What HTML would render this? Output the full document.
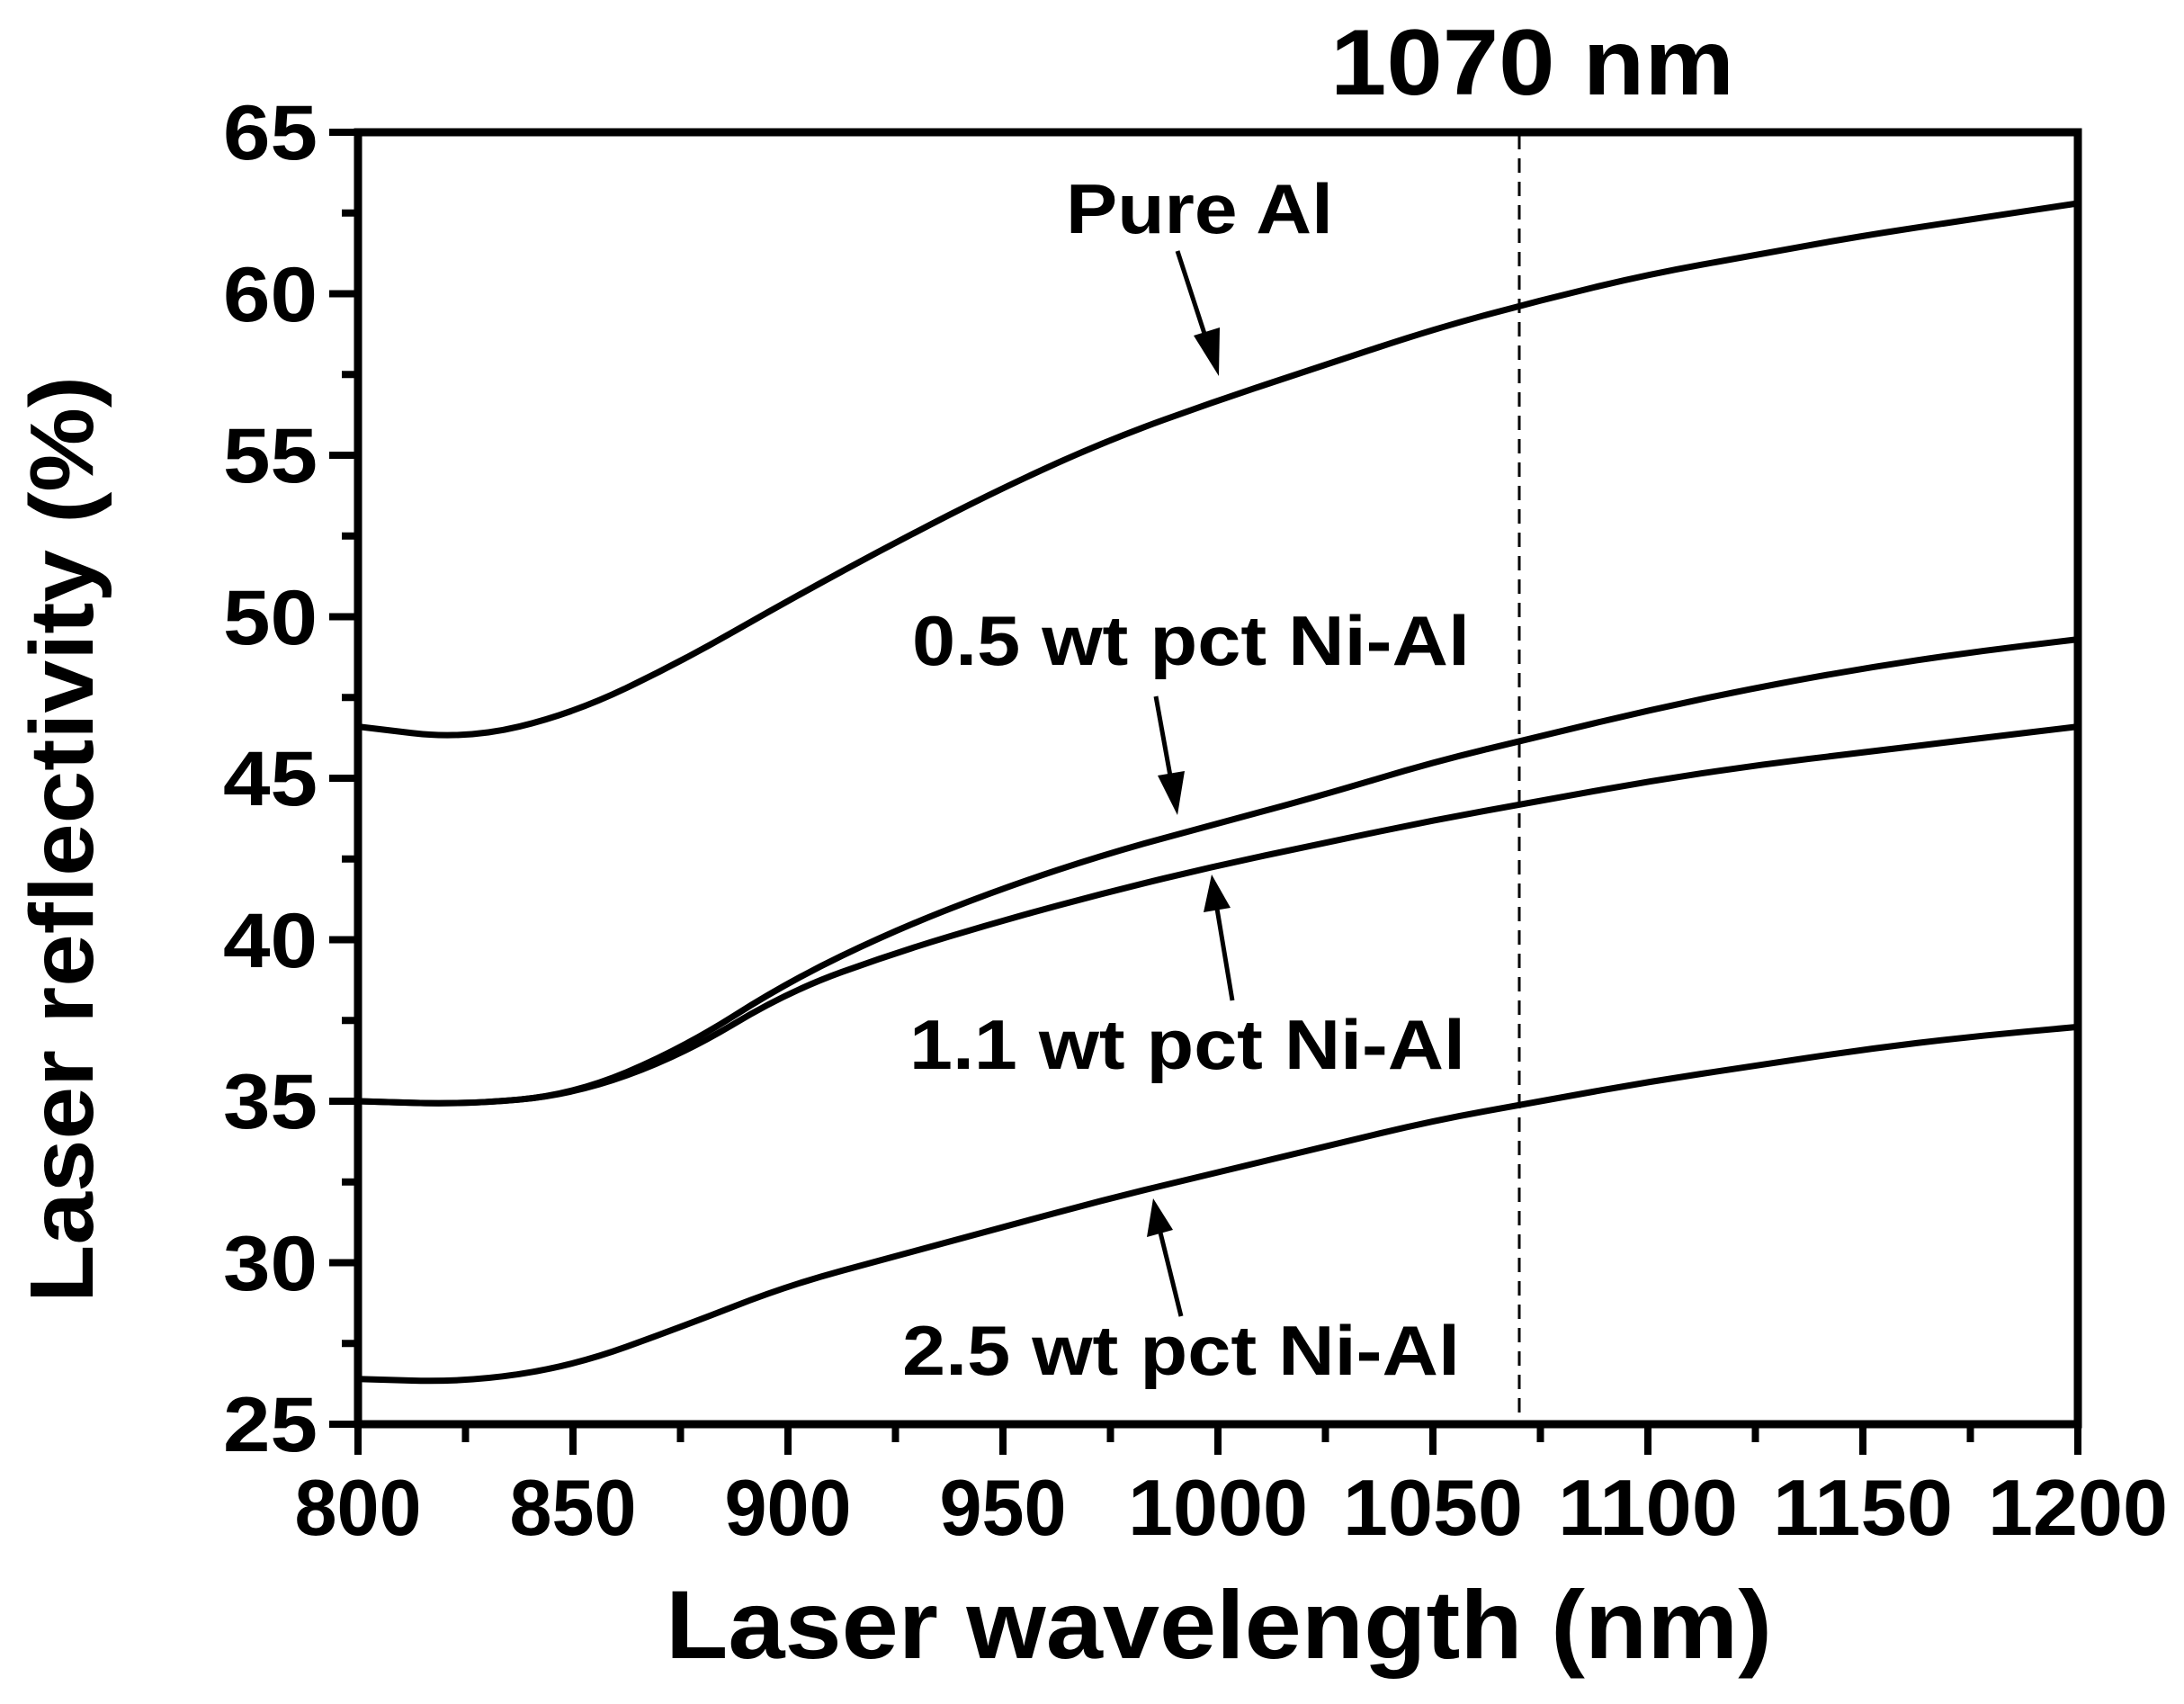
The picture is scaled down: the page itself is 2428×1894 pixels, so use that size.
<!DOCTYPE html>
<html><head><meta charset="utf-8"><style>
html,body{margin:0;padding:0;background:#fff;}
svg{display:block;}
text{font-family:"Liberation Sans",Arial,sans-serif;font-weight:bold;fill:#000;}
</style></head><body>
<svg width="2428" height="1894" viewBox="0 0 2428 1894" xmlns="http://www.w3.org/2000/svg">
<line x1="1689" y1="150" x2="1689" y2="1580" stroke="#000" stroke-width="3" stroke-dasharray="16,10"/>
<g fill="none" stroke="#000" stroke-width="7" stroke-linejoin="round" stroke-linecap="round">
<path d="M398,807.6 L457.75,814.75 Q517.5,821.9 577.25,807.55 Q637,793.2 696.75,764.5 Q756.5,735.8 816.25,701.7 Q876,667.6 935.75,635.25 Q995.5,602.9 1055.25,572.4 Q1115,541.9 1174.75,514.95 Q1234.5,488 1294.25,466.5 Q1354,445 1413.75,425.25 Q1473.5,405.5 1533.25,385.75 Q1593,366 1652.75,349.85 Q1712.5,333.7 1772.25,319.35 Q1832,305 1891.75,294.2 Q1951.5,283.4 2011.25,272.65 Q2071,261.9 2130.75,252.9 Q2190.5,243.9 2250.25,234.95 L2310,226"/>
<path d="M398,1224 L457.75,1225.8 Q517.5,1227.6 577.25,1222.2 Q637,1216.8 696.75,1191.7 Q756.5,1166.6 816.25,1128.9 Q876,1091.2 935.75,1062.45 Q995.5,1033.7 1055.25,1010.35 Q1115,987 1174.75,967.3 Q1234.5,947.6 1294.25,931.45 Q1354,915.3 1413.75,899.15 Q1473.5,883 1533.25,865.05 Q1593,847.1 1652.75,832.7 Q1712.5,818.3 1772.25,803.95 Q1832,789.6 1891.75,777.05 Q1951.5,764.5 2011.25,753.7 Q2071,742.9 2130.75,733.95 Q2190.5,725 2250.25,717.8 L2310,710.6"/>
<path d="M398,1224 L457.75,1225.8 Q517.5,1227.6 577.25,1222.2 Q637,1216.8 696.75,1195.25 Q756.5,1173.7 816.25,1137.85 Q876,1102 935.75,1080.45 Q995.5,1058.9 1055.25,1040.95 Q1115,1023 1174.75,1006.85 Q1234.5,990.7 1294.25,976.3 Q1354,961.9 1413.75,949.35 Q1473.5,936.8 1533.25,924.25 Q1593,911.7 1652.75,900.9 Q1712.5,890.1 1772.25,879.35 Q1832,868.6 1891.75,859.6 Q1951.5,850.6 2011.25,843.45 Q2071,836.3 2130.75,829.1 Q2190.5,821.9 2250.25,814.75 L2310,807.6"/>
<path d="M398,1532.7 L457.75,1534.5 Q517.5,1536.3 577.25,1527.35 Q637,1518.4 696.75,1496.85 Q756.5,1475.3 816.25,1451.95 Q876,1428.6 935.75,1412.45 Q995.5,1396.3 1055.25,1380.15 Q1115,1364 1174.75,1347.85 Q1234.5,1331.7 1294.25,1317.35 Q1354,1303 1413.75,1288.65 Q1473.5,1274.3 1533.25,1259.95 Q1593,1245.6 1652.75,1234.8 Q1712.5,1224 1772.25,1213.25 Q1832,1202.5 1891.75,1193.5 Q1951.5,1184.5 2011.25,1175.55 Q2071,1166.6 2130.75,1159.4 Q2190.5,1152.2 2250.25,1146.8 L2310,1141.4"/>
</g>
<rect x="398" y="147" width="1912" height="1436" fill="none" stroke="#000" stroke-width="9"/>
<g stroke="#000" stroke-width="8">
<line x1="366" y1="147" x2="398" y2="147"/><line x1="380" y1="236.75" x2="398" y2="236.75"/>
<line x1="366" y1="326.5" x2="398" y2="326.5"/><line x1="380" y1="416.25" x2="398" y2="416.25"/>
<line x1="366" y1="506" x2="398" y2="506"/><line x1="380" y1="595.75" x2="398" y2="595.75"/>
<line x1="366" y1="685.5" x2="398" y2="685.5"/><line x1="380" y1="775.25" x2="398" y2="775.25"/>
<line x1="366" y1="865" x2="398" y2="865"/><line x1="380" y1="954.75" x2="398" y2="954.75"/>
<line x1="366" y1="1044.5" x2="398" y2="1044.5"/><line x1="380" y1="1134.25" x2="398" y2="1134.25"/>
<line x1="366" y1="1224" x2="398" y2="1224"/><line x1="380" y1="1313.75" x2="398" y2="1313.75"/>
<line x1="366" y1="1403.5" x2="398" y2="1403.5"/><line x1="380" y1="1493.25" x2="398" y2="1493.25"/>
<line x1="366" y1="1583" x2="398" y2="1583"/>
</g>
<g stroke="#000" stroke-width="8">
<line x1="398" y1="1583" x2="398" y2="1617"/><line x1="517.5" y1="1583" x2="517.5" y2="1603"/>
<line x1="637" y1="1583" x2="637" y2="1617"/><line x1="756.5" y1="1583" x2="756.5" y2="1603"/>
<line x1="876" y1="1583" x2="876" y2="1617"/><line x1="995.5" y1="1583" x2="995.5" y2="1603"/>
<line x1="1115" y1="1583" x2="1115" y2="1617"/><line x1="1234.5" y1="1583" x2="1234.5" y2="1603"/>
<line x1="1354" y1="1583" x2="1354" y2="1617"/><line x1="1473.5" y1="1583" x2="1473.5" y2="1603"/>
<line x1="1593" y1="1583" x2="1593" y2="1617"/><line x1="1712.5" y1="1583" x2="1712.5" y2="1603"/>
<line x1="1832" y1="1583" x2="1832" y2="1617"/><line x1="1951.5" y1="1583" x2="1951.5" y2="1603"/>
<line x1="2071" y1="1583" x2="2071" y2="1617"/><line x1="2190.5" y1="1583" x2="2190.5" y2="1603"/>
<line x1="2310" y1="1583" x2="2310" y2="1617"/>
</g>
<g font-size="86" text-anchor="end">
<text x="353" y="177" textLength="105" lengthAdjust="spacingAndGlyphs">65</text>
<text x="353" y="357" textLength="105" lengthAdjust="spacingAndGlyphs">60</text>
<text x="353" y="536" textLength="105" lengthAdjust="spacingAndGlyphs">55</text>
<text x="353" y="716" textLength="105" lengthAdjust="spacingAndGlyphs">50</text>
<text x="353" y="895" textLength="105" lengthAdjust="spacingAndGlyphs">45</text>
<text x="353" y="1075" textLength="105" lengthAdjust="spacingAndGlyphs">40</text>
<text x="353" y="1254" textLength="105" lengthAdjust="spacingAndGlyphs">35</text>
<text x="353" y="1434" textLength="105" lengthAdjust="spacingAndGlyphs">30</text>
<text x="353" y="1613" textLength="105" lengthAdjust="spacingAndGlyphs">25</text>
</g>
<g font-size="88" text-anchor="middle">
<text x="398" y="1706" textLength="141" lengthAdjust="spacingAndGlyphs">800</text>
<text x="637" y="1706" textLength="141" lengthAdjust="spacingAndGlyphs">850</text>
<text x="876" y="1706" textLength="141" lengthAdjust="spacingAndGlyphs">900</text>
<text x="1115" y="1706" textLength="141" lengthAdjust="spacingAndGlyphs">950</text>
<text x="1354" y="1706" textLength="200" lengthAdjust="spacingAndGlyphs">1000</text>
<text x="1593" y="1706" textLength="200" lengthAdjust="spacingAndGlyphs">1050</text>
<text x="1832" y="1706" textLength="200" lengthAdjust="spacingAndGlyphs">1100</text>
<text x="2071" y="1706" textLength="200" lengthAdjust="spacingAndGlyphs">1150</text>
<text x="2310" y="1706" textLength="200" lengthAdjust="spacingAndGlyphs">1200</text>
</g>
<text x="740" y="1843" font-size="108" textLength="1230" lengthAdjust="spacingAndGlyphs">Laser wavelength (nm)</text>
<text transform="translate(103,1448) rotate(-90)" font-size="100" textLength="1030" lengthAdjust="spacingAndGlyphs">Laser reflectivity (%)</text>
<text x="1479" y="105" font-size="104" textLength="449" lengthAdjust="spacingAndGlyphs">1070 nm</text>
<g font-size="78">
<text x="1185" y="259" textLength="297" lengthAdjust="spacingAndGlyphs">Pure Al</text>
<text x="1014" y="739" textLength="620" lengthAdjust="spacingAndGlyphs">0.5 wt pct Ni-Al</text>
<text x="1011" y="1188" textLength="618" lengthAdjust="spacingAndGlyphs">1.1 wt pct Ni-Al</text>
<text x="1003" y="1528" textLength="620" lengthAdjust="spacingAndGlyphs">2.5 wt pct Ni-Al</text>
</g>
<g stroke="#000" stroke-width="5" fill="#000">
<line x1="1309" y1="279" x2="1342" y2="380"/>
<polygon points="1355,418 1327,373 1356,364" stroke="none"/>
<line x1="1285" y1="774" x2="1302" y2="868"/>
<polygon points="1309,906 1287,862 1317,857" stroke="none"/>
<line x1="1370" y1="1112" x2="1353" y2="1010"/>
<polygon points="1347,972 1338,1014 1368,1009" stroke="none"/>
<line x1="1313" y1="1463" x2="1290" y2="1370"/>
<polygon points="1282,1332 1275,1375 1304,1367" stroke="none"/>
</g>
</svg>
</body></html>
